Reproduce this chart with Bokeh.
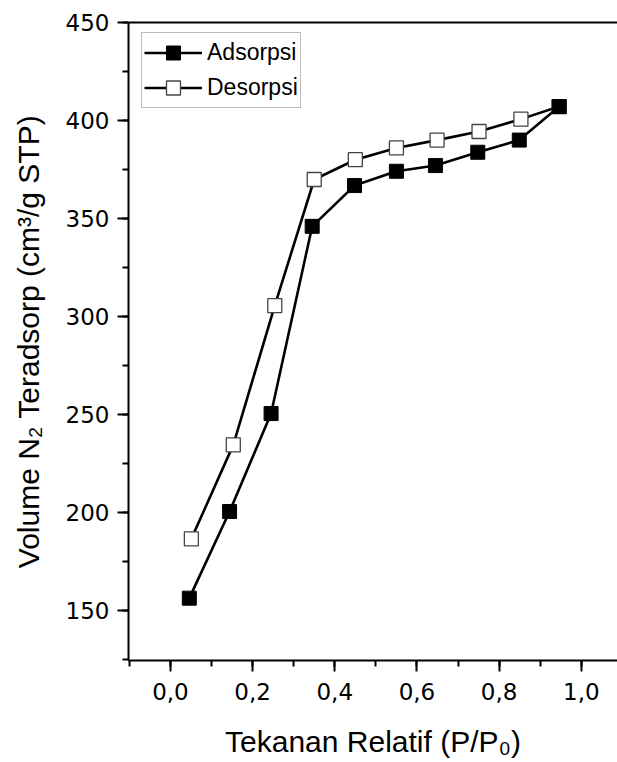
from bokeh.plotting import figure
from bokeh.models import (SingleIntervalTicker, FixedTicker, LinearAxis, Range1d,
                          CustomJSTickFormatter, Legend, LegendItem)
from bokeh.embed import file_html
from bokeh.resources import INLINE

# Data
ads_x = [0.046, 0.144, 0.245, 0.345, 0.448, 0.55, 0.645, 0.748, 0.849, 0.946]
ads_y = [156.3, 200.5, 250.5, 346.0, 366.8, 374.1, 377.0, 383.8, 390.0, 407.1]
des_x = [0.946, 0.853, 0.751, 0.649, 0.55, 0.45, 0.35, 0.254, 0.153, 0.051]
des_y = [407.1, 400.7, 394.4, 390.0, 386.0, 380.0, 369.9, 305.6, 234.5, 186.6]

x_label = "Tekanan Relatif (P/P\u2080)"
y_label = "Volume N\u2082 Teradsorp (cm\u00b3/g STP)"
FONT = "Liberation Sans"
TICK_FONT = "DejaVu Sans"

p = figure(width=617, height=762, output_backend="svg", toolbar_location=None,
           x_range=Range1d(-0.102, 1.088), y_range=Range1d(124.5, 450),
           min_border_left=128, min_border_top=22, min_border_right=0,
           min_border_bottom=102)
p.background_fill_color = "white"
p.border_fill_color = "white"
p.outline_line_color = None
p.grid.visible = False

for ax in (p.xaxis[0], p.yaxis[0]):
    ax.axis_line_width = 2
    ax.axis_line_color = "black"
    ax.major_tick_line_width = 2
    ax.minor_tick_line_width = 2
    ax.major_tick_line_color = "black"
    ax.minor_tick_line_color = "black"
    ax.major_tick_out = 11
    ax.major_tick_in = 0
    ax.minor_tick_out = 6
    ax.minor_tick_in = 0
    ax.major_label_text_font = TICK_FONT
    ax.major_label_text_font_size = "23px"
    ax.major_label_text_color = "black"
    ax.axis_label_text_font = FONT
    ax.axis_label_text_font_size = "30px"
    ax.axis_label_text_font_style = "normal"
    ax.axis_label_text_color = "black"
    ax.major_label_standoff = 8

p.xaxis[0].major_label_standoff = 11
p.xaxis[0].ticker = SingleIntervalTicker(interval=0.2, num_minor_ticks=2)
p.xaxis[0].formatter = CustomJSTickFormatter(code="return tick.toFixed(1).replace('.', ',');")
p.yaxis[0].ticker = SingleIntervalTicker(interval=50, num_minor_ticks=2)
p.xaxis[0].axis_label = x_label
p.yaxis[0].axis_label = y_label
p.xaxis[0].axis_label_standoff = 22
p.yaxis[0].axis_label_standoff = 18

top = LinearAxis(ticker=FixedTicker(ticks=[]), axis_line_width=2,
                 major_tick_line_color=None, minor_tick_line_color=None)
p.add_layout(top, "above")

# Desorption first (drawn under), adsorption on top
l_des = p.line(des_x, des_y, line_color="black", line_width=2.6)
l_ads = p.line(ads_x, ads_y, line_color="black", line_width=2.6)
s_des = p.scatter(des_x, des_y, marker="square", size=14, fill_color="white",
                  line_color="#444444", line_width=1.3)
s_ads = p.scatter(ads_x, ads_y, marker="square", size=14, fill_color="black",
                  line_color="black", line_width=1)

legend = Legend(items=[LegendItem(label="Adsorpsi", renderers=[l_ads, s_ads]),
                       LegendItem(label="Desorpsi", renderers=[l_des, s_des])],
                location=(13, 552))
legend.label_text_font = FONT
legend.label_text_font_size = "23px"
legend.label_text_color = "black"
legend.glyph_width = 58
legend.glyph_height = 35
legend.label_height = 35
legend.label_standoff = 5
legend.padding = 2
legend.spacing = -8
legend.margin = 0
legend.border_line_color = "#777777"
legend.border_line_width = 1
legend.background_fill_alpha = 1
p.add_layout(legend, "center")

open("out.html", "w").write(file_html(p, INLINE))
